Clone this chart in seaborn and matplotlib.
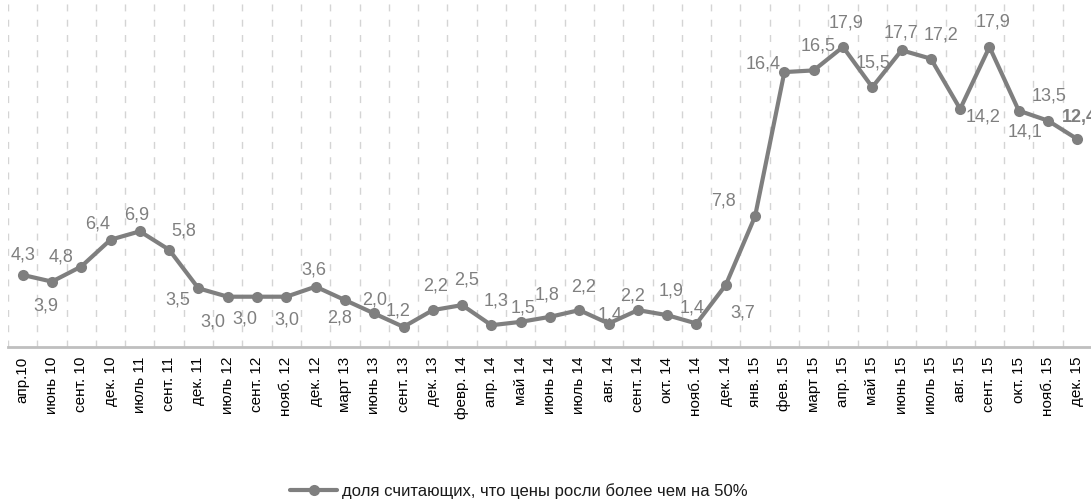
import matplotlib
matplotlib.use("Agg")
import matplotlib.pyplot as plt
import seaborn as sns
import pandas as pd
import numpy as np

categories = ["апр.10", "июнь 10", "сент. 10", "дек. 10", "июль 11", "сент. 11", "дек. 11",
              "июль 12", "сент. 12", "нояб. 12", "дек. 12", "март 13", "июнь 13", "сент. 13",
              "дек. 13", "февр. 14", "апр. 14", "май 14", "июнь 14", "июль 14", "авг. 14",
              "сент. 14", "окт. 14", "нояб. 14", "дек. 14", "янв. 15", "фев. 15", "март 15",
              "апр. 15", "май 15", "июнь 15", "июль 15", "авг. 15", "сент. 15", "окт. 15",
              "нояб. 15", "дек. 15"]
values = [4.3, 3.9, 4.8, 6.4, 6.9, 5.8, 3.5, 3.0, 3.0, 3.0, 3.6, 2.8, 2.0, 1.2, 2.2, 2.5,
          1.3, 1.5, 1.8, 2.2, 1.4, 2.2, 1.9, 1.4, 3.7, 7.8, 16.4, 16.5, 17.9, 15.5, 17.7,
          17.2, 14.2, 17.9, 14.1, 13.5, 12.4]
series_name = "доля считающих, что цены росли более чем на 50%"

# label offsets in pixels (dx, dy upward positive)
label_offsets = [(0, 20), (-6, -24), (-20, 10), (-13, 16), (-3, 16), (15, 19), (-21, -12),
                 (-15, -25), (-12, -22), (1, -23), (-2, 17), (-5, -18), (0, 13), (-5, 16),
                 (3, 24), (4, 25), (5, 24), (2, 14), (-3, 22), (4, 23), (1, 9), (-5, 14),
                 (4, 24), (-4, 16), (17, -28), (-32, 15), (-21, 8), (4, 24), (3, 24), (1, 24),
                 (-1, 17), (10, 24), (23, -8), (4, 25), (6, -21), (1, 25), (0, 22)]

sns.set_theme(style="white")
plt.rcParams['font.family'] = ['Liberation Sans', 'DejaVu Sans']

W, H = 1091, 499
fig = plt.figure(figsize=(W / 100, H / 100), dpi=100)
ax = fig.add_axes([8 / W, 1 - 347 / H, (1092 - 8) / W, 347 / H])

df = pd.DataFrame({"x": np.arange(len(categories)), "y": values, "s": series_name})
color = "#7f7f7f"
sns.lineplot(data=df, x="x", y="y", hue="s", palette=[color], marker="o", markersize=8,
             markeredgewidth=0, linewidth=3, ax=ax, legend=True)

ax.set_xlim(-0.5, len(categories) - 0.5)
ax.set_ylim(0, 20.7)
ax.set_xlabel("")
ax.set_ylabel("")
ax.set_yticks([])
ax.set_xticks(np.arange(len(categories)))
ax.set_xticklabels(categories, rotation=90, fontsize=11, color="#000000")
ax.tick_params(axis="x", which="major", length=0, pad=7)
ax.set_xticks(np.arange(len(categories) + 1) - 0.5, minor=True)
ax.tick_params(axis="x", which="minor", length=5, color="#c8c8c8", width=1.2, direction="out")
for xb in np.arange(len(categories) + 1) - 0.5:
    ax.axvline(xb, color="#d4d4d4", linewidth=1, linestyle=(0, (5, 6)), zorder=0)

for side in ["top", "right", "left"]:
    ax.spines[side].set_visible(False)
ax.spines["bottom"].set_color("#bfbfbf")
ax.spines["bottom"].set_linewidth(2)

for i, (v, (dx, dy)) in enumerate(zip(values, label_offsets)):
    txt = f"{v:.1f}".replace(".", ",")
    last = i == len(values) - 1
    ax.annotate(txt, (i, v), xytext=(dx * 0.72, dy * 0.72), textcoords="offset points",
                ha="left" if last else "center", va="center", fontsize=13,
                color="#7f7f7f", fontweight="bold" if last else "normal",
                annotation_clip=False)
t = ax.texts[-1]
t.set_position((-15 * 0.72, 22 * 0.72))

leg = ax.legend(loc="center", bbox_to_anchor=(0.5 - 31 / 1084, -0.415),
                frameon=False, fontsize=12, handlelength=2.8, handletextpad=0.3)
for h in leg.legend_handles:
    h.set_linewidth(3)
    h.set_markersize(8)
for t in leg.get_texts():
    t.set_color("#1a1a1a")

fig.savefig("out.png", dpi=100)
